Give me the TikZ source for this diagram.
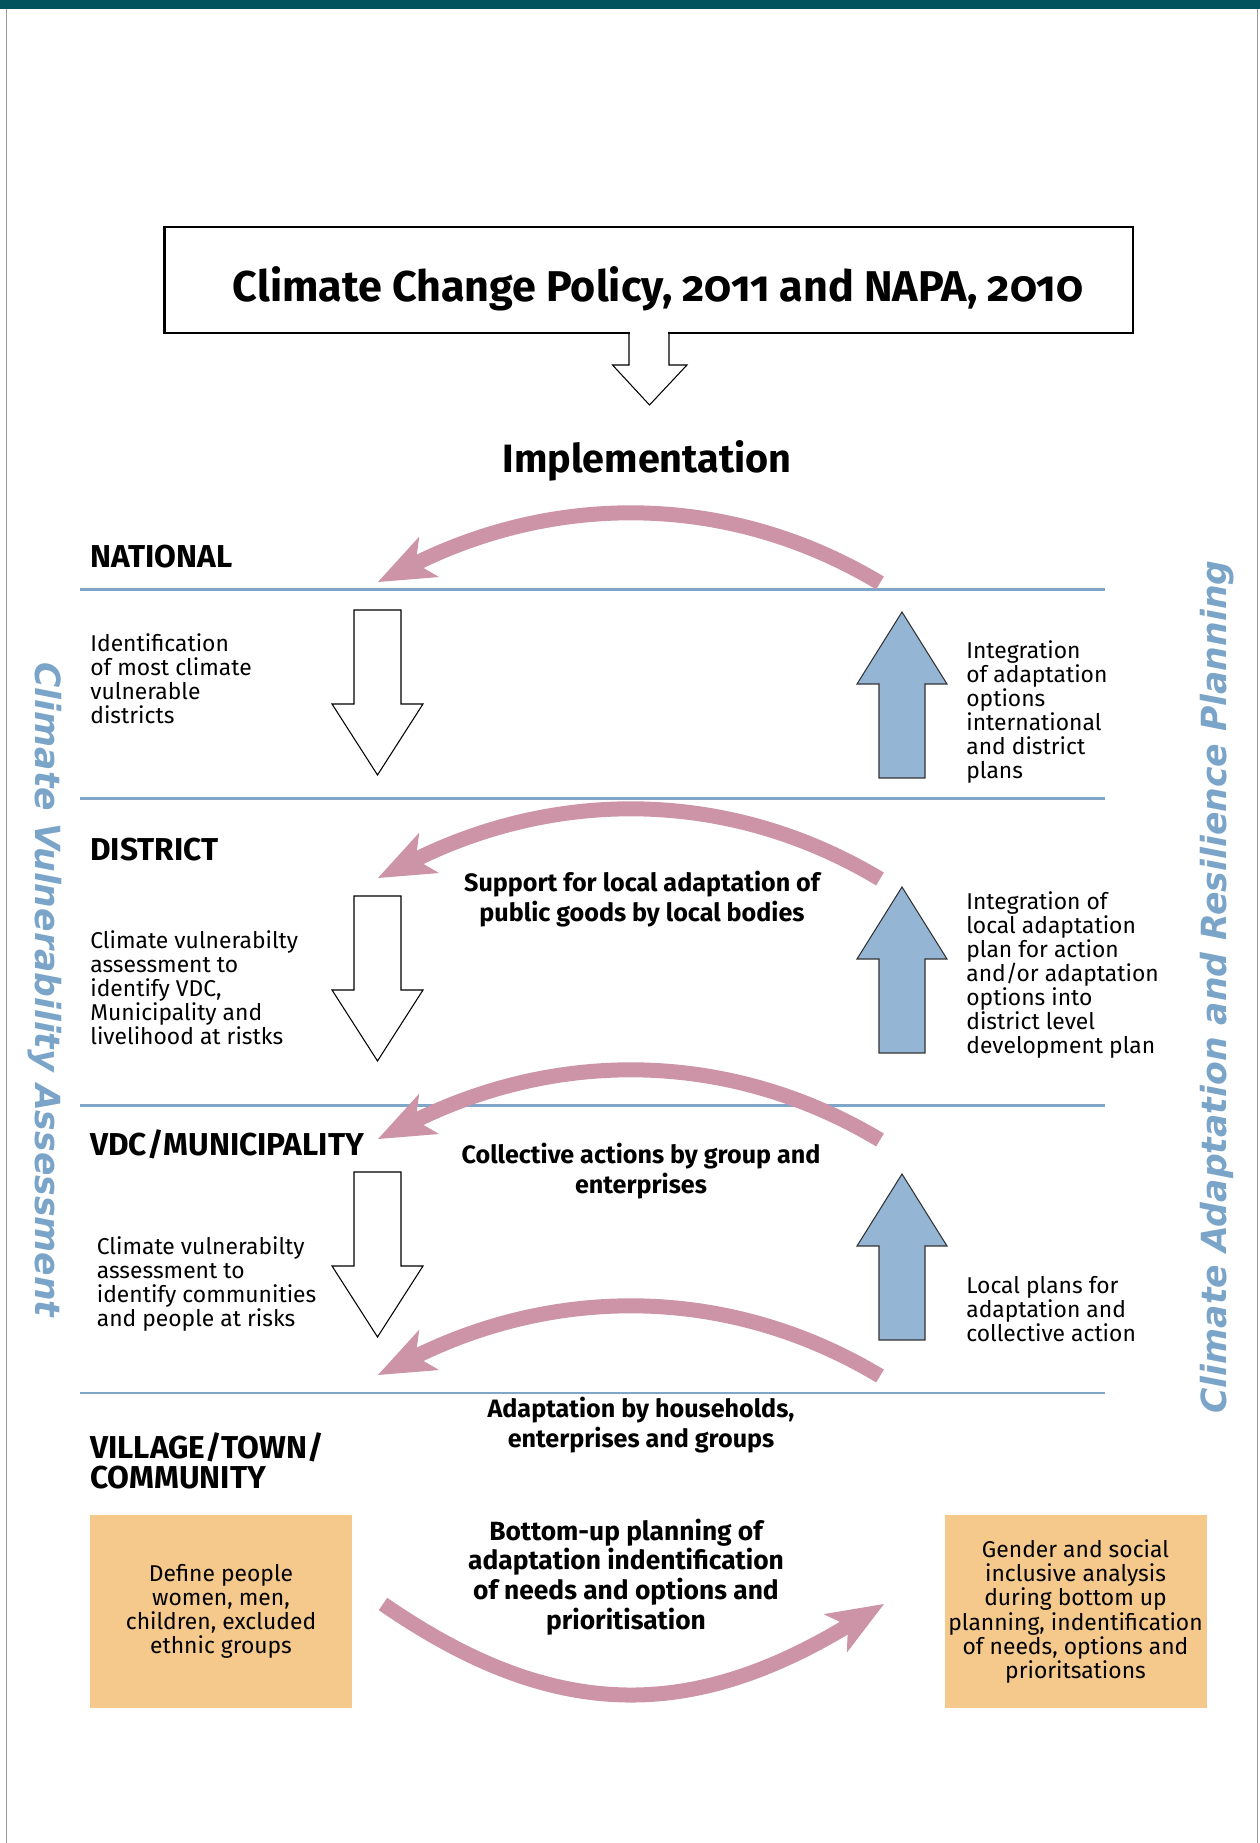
\documentclass[tikz,border=0pt]{standalone}
\usepackage{fontspec}
\setmainfont{Fira Sans}
\newfontfamily\sidefont{DejaVu Sans}
\usepackage{tikz}
\usetikzlibrary{arrows.meta, positioning, calc}

\definecolor{topteal}{HTML}{02535E}
\definecolor{ruleblue}{HTML}{7FA6C9}
\definecolor{arrowblue}{HTML}{94B5D4}
\definecolor{arcpink}{HTML}{CC94A6}
\definecolor{boxorange}{HTML}{F5C88C}
\definecolor{sideblue}{HTML}{7BA4C9}

\begin{document}
\begin{tikzpicture}[
    x=1cm, y=1cm,
    level/.style={anchor=base west, inner sep=0pt, align=left, font={\fontsize{18}{17.1}\selectfont\bfseries}},
    desc/.style={anchor=west, inner sep=0pt, align=left, font={\fontsize{13}{13.7}\selectfont}},
    flow/.style={inner sep=0pt, align=center, font={\fontsize{14.3}{17.1}\selectfont\bfseries}},
    orangebox/.style={fill=boxorange, minimum width=5.24cm, minimum height=3.86cm, inner sep=2pt, align=center, font={\fontsize{13}{13.7}\selectfont}},
    rule/.style={draw=ruleblue, line width=1.7pt},
    hollow/.style={draw=black, fill=white, line width=0.6pt},
    upblock/.style={draw=black!80, fill=arrowblue, line width=0.6pt},
    pinkband/.style={draw=arcpink, line width=0.3cm, -{Stealth[length=1.14cm, width=0.9cm, inset=0.3cm, line width=0pt]}},
    sidetext/.style={inner sep=0pt, text=sideblue, font={\sidefont\fontsize{19.7}{20}\selectfont\bfseries\itshape}},
    ]

    \useasboundingbox (0,0) rectangle (25.2,36.86);

    % ==========================================
    % Page frame
    % ==========================================
    \fill[topteal] (0,36.68) rectangle (25.2,36.86);
    \draw[black!40, line width=1.1pt] (0.13,0) -- (0.13,36.68);
    \draw[black!40, line width=1.1pt] (25.15,0) -- (25.15,36.68);

    % ==========================================
    % Policy box and implementation
    % ==========================================
    \node[draw, line width=1.4pt, minimum width=19.37cm, minimum height=2.12cm] (policy) at (12.975,31.26) {};
    \node[anchor=base, inner sep=0pt, font={\fontsize{24.5}{26}\selectfont\bfseries\addfontfeatures{Numbers=OldStyle}}] (policy-title) at (13.16,30.82) {Climate Change Policy, 2011 and NAPA, 2010};

    \fill[white] (12.60,30.15) rectangle (13.36,30.26);
    \draw[hollow, fill=none] (12.58,30.22) -- (12.58,29.56) -- (12.25,29.56) -- (12.99,28.76) -- (13.74,29.56) -- (13.38,29.56) -- (13.38,30.22);

    \node[anchor=base, inner sep=0pt, font={\fontsize{22.5}{24}\selectfont\bfseries}] (implementation) at (12.94,27.40) {Implementation};

    % ==========================================
    % Level rules
    % ==========================================
    \foreach \yy in {25.06, 20.88, 14.74, 9.00} {
        \draw[rule] (1.6,\yy) -- (22.1,\yy);
    }

    % ==========================================
    % Macros for the arrows
    % ==========================================
    \newcommand{\downblock}[1]{
        \def\blocktop{#1}
        \draw[hollow] (7.08,\blocktop) -- (8.02,\blocktop) -- (8.02,\blocktop-1.88) -- (8.46,\blocktop-1.88)
            -- (7.55,\blocktop-3.30) -- (6.64,\blocktop-1.88) -- (7.08,\blocktop-1.88) -- cycle;
    }
    \newcommand{\upblock}[1]{
        \def\blockbase{#1}
        \draw[upblock] (17.58,\blockbase) -- (18.50,\blockbase) -- (18.50,\blockbase+1.88) -- (18.94,\blockbase+1.88)
            -- (18.04,\blockbase+3.32) -- (17.14,\blockbase+1.88) -- (17.58,\blockbase+1.88) -- cycle;
    }
    \newcommand{\feedarc}[2]{
        \def\tipy{#2}
        \coordinate (arcfrom-#1) at (17.60,\tipy-0.02);
        \coordinate (arcto-#1) at (7.56,\tipy);
        \draw[pinkband] (arcfrom-#1) .. controls +(-3.0,1.80) and +(3.62,1.78) .. (arcto-#1);
    }

    % feedback arcs
    \foreach \name/\yy in {national/25.22, district/19.30, vdc/14.08, village/9.36} {
        \feedarc{\name}{\yy}
    }

    % top-down and bottom-up blocks
    \foreach \yy in {24.66, 18.94, 13.42} {
        \downblock{\yy}
    }
    \foreach \yy in {21.30, 15.80, 10.06} {
        \upblock{\yy}
    }

    % ==========================================
    % Levels
    % ==========================================
    \node[level] (national) at (1.8,25.50) {NATIONAL};
    \node[level] (district) at (1.8,19.64) {DISTRICT};
    \node[level] (vdc) at (1.8,13.74) {VDC/MUNICIPALITY};
    \node[level, anchor=west] (village) at (1.8,7.64) {VILLAGE/TOWN/\\COMMUNITY};

    % left: assessment
    \node[desc] (assess-national) at (1.8,23.28) {Identification\\of most climate\\vulnerable\\districts};
    \node[desc] (assess-district) at (1.8,17.10) {Climate vulnerabilty\\assessment to\\identify VDC,\\Municipality and\\livelihood at ristks};
    \node[desc] (assess-vdc) at (1.93,11.18) {Climate vulnerabilty\\assessment to\\identify communities\\and people at risks};

    % right: integration
    \node[desc] (plan-national) at (19.32,22.62) {Integration\\of adaptation\\options\\international\\and district\\plans};
    \node[desc] (plan-district) at (19.32,17.36) {Integration of\\local adaptation\\plan for action\\and/or adaptation\\options into\\district level\\development plan};
    \node[desc] (plan-vdc) at (19.32,10.68) {Local plans for\\adaptation and\\collective action};

    % middle: support
    \node[flow] (support) at (12.84,18.88) {Support for local adaptation of\\public goods by local bodies};
    \node[flow] (collective) at (12.82,13.43) {Collective actions by group and\\enterprises};
    \node[flow] (households) at (12.82,8.35) {Adaptation by households,\\enterprises and groups};

    % ==========================================
    % Community planning
    % ==========================================
    \node[orangebox] (people) at (4.42,4.63) {Define people\\women, men,\\children, excluded\\ethnic groups};
    \node[orangebox] (gender) at (21.51,4.63) {Gender and social\\inclusive analysis\\during bottom up\\planning, indentification\\of needs, options and\\prioritsations};

    \coordinate (planfrom) at (7.66,4.78);
    \coordinate (planto) at (17.68,4.78);
    \draw[pinkband] (planfrom) .. controls +(3.4,-2.35) and +(-3.9,-2.35) .. (planto);

    \node[flow, font={\fontsize{15}{16.8}\selectfont\bfseries}] (bottomup) at (12.52,5.32) {Bottom-up planning of\\adaptation indentification\\of needs and options and\\prioritisation};

    % ==========================================
    % Side titles
    % ==========================================
    \node[sidetext, rotate=-90] (side-assessment) at (0.90,17.06) {Climate Vulnerability Assessment};
    \node[sidetext, rotate=90] (side-planning) at (24.34,17.12) {Climate Adaptation and Resilience Planning};

\end{tikzpicture}
\end{document}
